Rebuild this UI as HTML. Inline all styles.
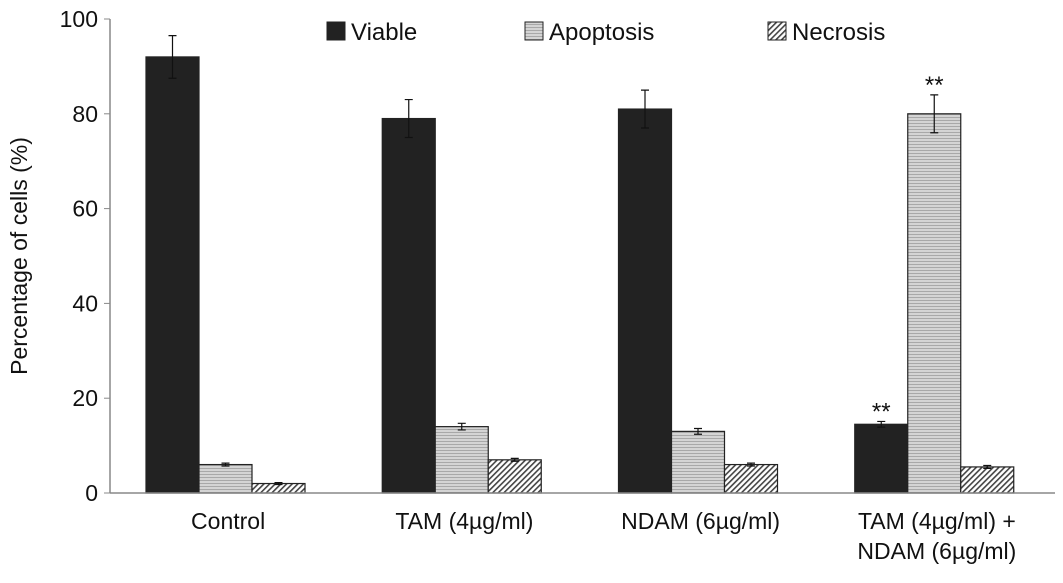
<!DOCTYPE html>
<html><head><meta charset="utf-8"><style>
html,body{margin:0;padding:0;background:#fff;}
svg{display:block;font-family:"Liberation Sans",Arial,sans-serif;}
</style></head><body>
<svg id="chart" width="1063" height="583" viewBox="0 0 1063 583">
<defs>
<pattern id="hstripe" width="4" height="3" patternUnits="userSpaceOnUse"><rect width="4" height="3" fill="#d4d4d4"/><rect width="4" height="1" fill="#a8a8a8"/></pattern>
<pattern id="diag" width="4" height="4" patternUnits="userSpaceOnUse" patternTransform="rotate(45)"><rect width="4" height="4" fill="#fff"/><rect width="1.6" height="4" fill="#444"/></pattern>
</defs>
<g id="g"></g>
</svg>
<script>
const categories=["Control","TAM (4µg/ml)","NDAM (6µg/ml)","TAM (4µg/ml) +|NDAM (6µg/ml)"];
const seriesNames=["Viable","Apoptosis","Necrosis"];
const viable=[92,79,81,14.5];
const apoptosis=[6,14,13,80];
const necrosis=[2,7,6,5.5];
const viableErr=[4.5,4,4,0.6];
const apoptosisErr=[0.3,0.7,0.6,4];
const necrosisErr=[0.2,0.3,0.3,0.3];
const yTicks=[0,20,40,60,80,100];
const stars=[[3,0],[3,1]];

const NS="http://www.w3.org/2000/svg";
const g=document.getElementById('g');
function el(t,a,txt){const e=document.createElementNS(NS,t);for(const k in a)e.setAttribute(k,a[k]);if(txt!==undefined)e.textContent=txt;g.appendChild(e);return e;}
const x0=110,x1=1055,yBase=493,yTop=19;
const y=v=>yBase-(yBase-yTop)*v/100;
const groupW=(x1-x0)/categories.length;
const barW=53;
const barX=(i,s)=>x0+groupW*i+36+barW*s;
const fills=["#222","url(#hstripe)","url(#diag)"];
const data=[viable,apoptosis,necrosis],errs=[viableErr,apoptosisErr,necrosisErr];

yTicks.forEach(t=>{
 const tk=el('line',{x1:x0-6,x2:x0,y1:y(t),y2:y(t),stroke:'#888','stroke-width':1});
 
 
 const tl=el('text',{x:x0-12,y:y(t)+8,'text-anchor':'end','font-size':23,fill:'#111'},t);
 
 
});
const ya=el('line',{x1:x0,x2:x0,y1:yTop,y2:yBase,stroke:'#888','stroke-width':1.5});


const yt=el('text',{x:0,y:0,transform:'translate(27,256) rotate(-90)','text-anchor':'middle','font-size':23,fill:'#111'},'Percentage of cells (%)');



categories.forEach((c,i)=>{
 data.forEach((d,s)=>{
  const bx=barX(i,s);
  const r=el('rect',{x:bx,y:y(d[i]),width:barW,height:yBase-y(d[i]),fill:fills[s],stroke:'#222','stroke-width':1.2});
  
  
  const cx=bx+barW/2,e=errs[s][i];
  const ep=el('path',{d:`M${cx},${y(d[i]+e)}V${y(d[i]-e)}M${cx-4},${y(d[i]+e)}H${cx+4}M${cx-4},${y(d[i]-e)}H${cx+4}`,stroke:'#111','stroke-width':1.2,fill:'none'});
  
  
 });
 const lines=c.split('|');
 lines.forEach((ln,k)=>{
  const t=el('text',{x:x0+groupW*(i+0.5),y:529+k*30,'text-anchor':'middle','font-size':23,fill:'#111'},ln);
  
  
 });
});
stars.forEach(([i,s])=>{
 const v=data[s][i]+errs[s][i];
 const t=el('text',{x:barX(i,s)+barW/2,y:y(v)-2,'text-anchor':'middle','font-size':24,fill:'#111'},'**');
 
 
});
const xa=el('line',{x1:x0,x2:x1,y1:yBase,y2:yBase,stroke:'#888','stroke-width':1.5});



const legX=[327,525,768];
seriesNames.forEach((n,s)=>{
 const r=el('rect',{x:legX[s],y:22,width:18,height:18,fill:fills[s],stroke:'#222','stroke-width':1});
 
 
 const t=el('text',{x:legX[s]+24,y:40,'font-size':24,fill:'#111'},n);
 
 
});
</script>
</body></html>
